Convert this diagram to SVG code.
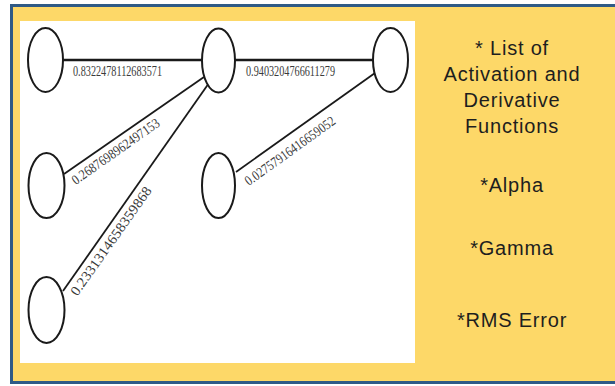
<svg xmlns="http://www.w3.org/2000/svg" width="615" height="386" viewBox="0 0 615 386">
  <style>
    .node { fill: #ffffff; stroke: #1a1a1a; stroke-width: 2; }
    .edge { stroke: #1a1a1a; stroke-width: 1.8; fill: none; }
    .edge.main { stroke-width: 2.6; }
    .w { font-family: "Liberation Serif", "Times New Roman", serif; font-size: 14px; fill: #3a3a3a; }
    .side { font-family: "Liberation Sans", Arial, sans-serif; font-size: 20px; fill: #1e1e1e; text-anchor: middle; letter-spacing: 0.8px; }
  </style>

  <!-- frame -->
  <rect x="0" y="0" width="615" height="386" fill="#ffffff"/>
  <rect x="11.5" y="5.5" width="620" height="377" fill="#fdd868" stroke="#2f5a86" stroke-width="3"/>
  <rect x="20" y="21" width="395" height="342" fill="#ffffff"/>

  <!-- connectors -->
  <g id="connectors">
    <line class="edge main" x1="63" y1="60" x2="202" y2="60"/>
    <line class="edge main" x1="235" y1="60" x2="373" y2="60"/>
    <line class="edge" x1="64" y1="174" x2="204" y2="77"/>
    <line class="edge" x1="63" y1="291" x2="209" y2="83"/>
    <line class="edge" x1="236" y1="172" x2="375" y2="73"/>

    <text class="w" x="73" y="76" textLength="89" lengthAdjust="spacingAndGlyphs">0.8322478112683571</text>
    <text class="w" x="246" y="76" textLength="89" lengthAdjust="spacingAndGlyphs">0.9403204766611279</text>
    <text class="w" transform="translate(70,177) rotate(-35.2)" x="0" y="10" textLength="104" lengthAdjust="spacingAndGlyphs">0.2687698962497153</text>
    <text class="w" transform="translate(69,291) rotate(-54.7)" x="0" y="10" textLength="130" lengthAdjust="spacingAndGlyphs">0.2331314658359868</text>
    <text class="w" transform="translate(243,178) rotate(-35.7)" x="0" y="10" textLength="108" lengthAdjust="spacingAndGlyphs">0.02757916416659052</text>
  </g>

  <!-- nodes -->
  <g id="n1"><ellipse class="node" cx="45.5" cy="60" rx="17.5" ry="32"/></g>
  <g id="n2"><ellipse class="node" cx="218.5" cy="60.5" rx="16.5" ry="32"/></g>
  <g id="n3"><ellipse class="node" cx="390.5" cy="60" rx="17.5" ry="32"/></g>
  <g id="n4"><ellipse class="node" cx="46.5" cy="185.5" rx="18" ry="32.5"/></g>
  <g id="n5"><ellipse class="node" cx="46.5" cy="310" rx="18" ry="33"/></g>
  <g id="n6"><ellipse class="node" cx="218.5" cy="185.5" rx="16.5" ry="32.5"/></g>

  <!-- parameter list -->
  <g id="legend">
    <text class="side" x="512" y="55">* List of</text>
    <text class="side" x="512" y="81">Activation and</text>
    <text class="side" x="512" y="107">Derivative</text>
    <text class="side" x="512" y="133">Functions</text>
    <text class="side" x="512" y="192">*Alpha</text>
    <text class="side" x="512" y="255">*Gamma</text>
    <text class="side" x="512" y="327">*RMS Error</text>
  </g>
</svg>
